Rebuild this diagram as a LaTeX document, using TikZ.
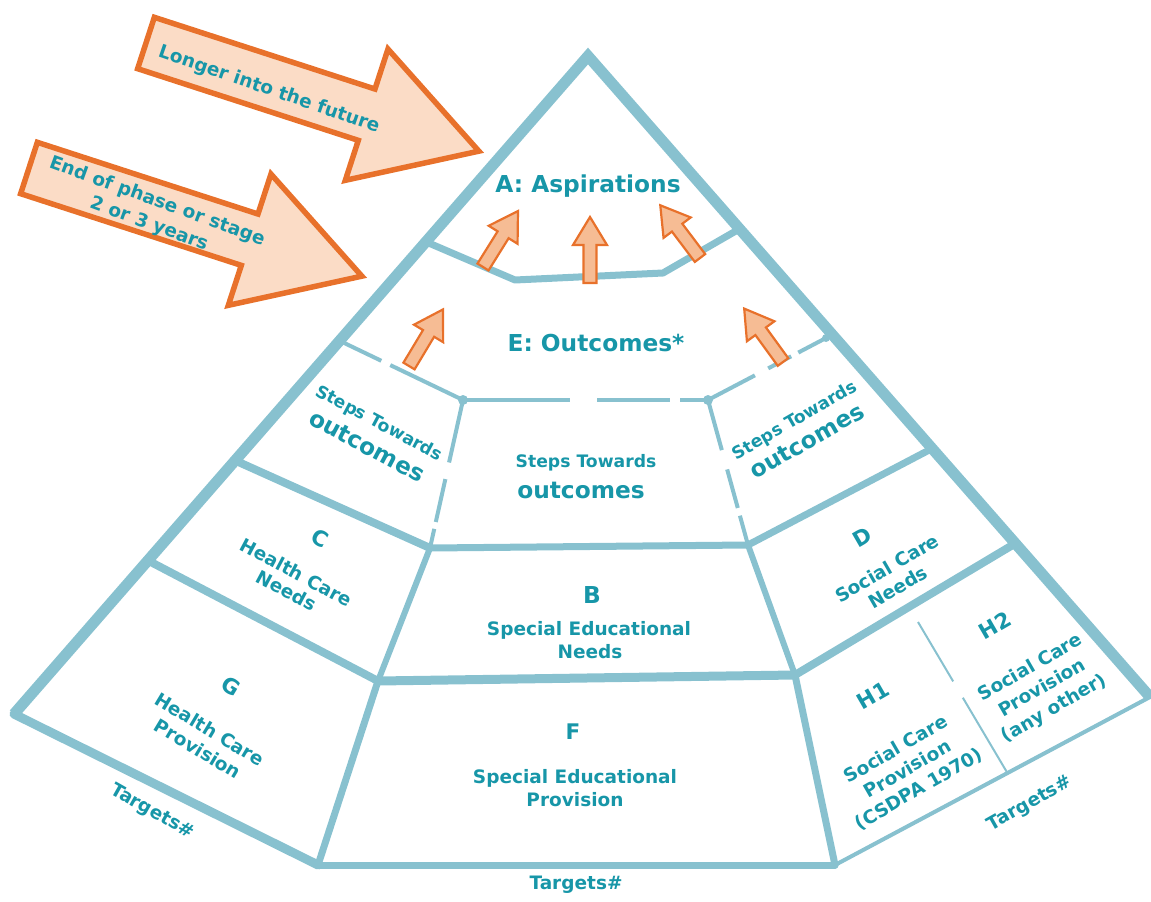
\documentclass[tikz,border=0pt]{standalone}
\usepackage{fontspec}
\setmainfont{DejaVu Sans}
\definecolor{frame}{HTML}{88C1CF}
\definecolor{ink}{HTML}{1796A8}
\definecolor{peach}{HTML}{FBDCC6}
\definecolor{peachdk}{HTML}{F6BC94}
\definecolor{orangeline}{HTML}{E8712B}
\newcommand\fsS{\bfseries\fontsize{18.5}{22}\selectfont}
\newcommand\fsT{\bfseries\fontsize{17.2}{20}\selectfont}
\newcommand\fsM{\bfseries\fontsize{21.5}{24}\selectfont}
\newcommand\fsL{\bfseries\fontsize{23.3}{26}\selectfont}
\newcommand\fsskip[1]{\bfseries\fontsize{18.5}{#1}\selectfont}
\begin{document}
\begin{tikzpicture}[x=1pt,y=-1pt,
  edge/.style={draw=frame, line cap=round, line join=round},
  stepline/.style={draw=frame, line width=4pt, line cap=butt},
  txt/.style={text=ink, inner sep=0pt, font=\fsS},
  block/.style={txt, align=center},
  bigarrow/.pic={\filldraw[fill=peach, draw=orangeline, line width=5.5pt, line join=miter]
      (0,-27) -- (232,-27) -- (232,-69) -- (350,0) -- (232,69) -- (232,27) -- (0,27) -- cycle;},
  smallarrow/.pic={\filldraw[fill=peachdk, draw=orangeline, line width=2.2pt, line join=miter]
      (0,-6.5) -- (38,-6.5) -- (38,-17) -- (66,0) -- (38,17) -- (38,6.5) -- (0,6.5) -- cycle;},
]
\useasboundingbox (0,0) rectangle (1151,902);

% corner points of the pyramid and its sections
\coordinate (apex) at (588,56);
\coordinate (lc) at (14,714);
\coordinate (rc) at (1150,697);
\coordinate (gb) at (318,865);
\coordinate (hb) at (835,865);
\coordinate (ae0) at (424,241);
\coordinate (ae1) at (515,280);
\coordinate (ae2) at (663,273);
\coordinate (ae3) at (741,228);
\coordinate (sl0) at (338,340);
\coordinate (sl) at (463,400);
\coordinate (sr) at (708,400);
\coordinate (sr0) at (826,338);
\coordinate (cl0) at (234,460);
\coordinate (bl) at (430,548);
\coordinate (br) at (748,545);
\coordinate (dr0) at (933,448);
\coordinate (cg0) at (147,560);
\coordinate (gf) at (378,681);
\coordinate (fh) at (795,675);
\coordinate (dh0) at (1016,543);
\coordinate (hd0) at (918,622);
\coordinate (hd1) at (1008,774);

% the two time-scale arrows
\pic[rotate=-18] at (146,43) {bigarrow};
\pic[rotate=-18] at (29,168) {bigarrow};
\node[txt, rotate=-19] (future) at (269,90) {Longer into the future};
\node[block, rotate=-20, font=\fsskip{24}] (phase) at (153,213) {End of phase or stage\\2 or 3 years};

% outer frame
\draw[draw=frame, line width=11pt, line join=miter] (lc) -- (apex) -- (rc);
\draw[edge, line width=9pt] (lc) -- (gb);
\draw[edge, line width=7pt] (gb) -- (hb);
\draw[edge, line width=4pt] (hb) -- (rc);

% section boundaries
\draw[edge, line width=7pt] (ae0) -- (ae1) -- (ae2) -- (ae3);
\draw[edge, line width=8pt] (cl0) -- (bl);
\draw[edge, line width=7pt] (bl) -- (br);
\draw[edge, line width=7pt] (br) -- (dr0);
\draw[edge, line width=8pt] (cg0) -- (gf);
\draw[edge, line width=6pt] (bl) -- (gf);
\draw[edge, line width=9pt] (gf) -- (fh);
\draw[edge, line width=6pt] (br) -- (fh);
\draw[edge, line width=8pt] (fh) -- (dh0);
\draw[edge, line width=7pt] (gf) -- (gb);
\draw[edge, line width=7pt] (fh) -- (hb);
\draw[draw=frame, line width=2pt, dash pattern=on 69pt off 19pt on 120pt] (hd0) -- (hd1);

% broken lines round the steps towards outcomes
\draw[stepline, dash pattern=on 48pt off 10pt on 200pt] (sl0) -- (sl);
\draw[stepline, dash pattern=on 107pt off 27pt on 73pt off 10pt on 100pt] (sl) -- (sr);
\draw[stepline, dash pattern=on 64pt off 17pt on 44pt off 7pt on 100pt] (sl) -- (bl);
\draw[stepline, dash pattern=on 52pt off 20pt on 40pt off 8pt on 100pt] (sr) -- (br);
\draw[stepline, dash pattern=on 53pt off 15pt on 26pt off 8pt on 100pt] (sr) -- (sr0);
\fill[frame] (sl) circle (5);
\fill[frame] (sr) circle (5);
\fill[frame] (sr0) circle (4);

% progress arrows
\pic[rotate=58] at (483,267) {smallarrow};
\pic[rotate=90] at (590,283) {smallarrow};
\pic[rotate=127] at (700,258) {smallarrow};
\pic[rotate=59] at (409,366) {smallarrow};
\pic[rotate=126] at (783,362) {smallarrow};

% labels
\node[txt, font=\fsL] (asp) at (588,186) {A: Aspirations};
\node[txt, font=\fsL] (outc) at (596,343) {E: Outcomes*};

\node[txt, font=\fsT] (smA) at (586,463) {Steps Towards};
\node[txt, font=\fsL] (smB) at (581,490) {outcomes};
\node[block, rotate=-28, font=\bfseries\fontsize{17.2}{28.5}\selectfont] (stepsL) at (373,435)
  {Steps Towards\\{\fsL outcomes}};
\node[block, rotate=30, font=\bfseries\fontsize{17.2}{26.5}\selectfont] (stepsR) at (801,431)
  {Steps Towards\\{\fsL outcomes}};

\node[txt, font=\fsM, rotate=-28] (cL) at (320,538) {C};
\node[block, rotate=-28, font=\fsskip{20.5}] (cD) at (291.5,581.5) {Health Care\\Needs};

\node[txt, font=\fsM, rotate=30] (dL) at (862,537) {D};
\node[block, rotate=30, font=\fsskip{22}] (dD) at (892.5,577.5) {Social Care\\Needs};

\node[txt, font=\fsL] (bL) at (592,595) {B};
\node[txt] (bA) at (589,630) {Special Educational};
\node[txt] (bB) at (590,652) {Needs};

\node[txt, font=\fsM] (fL) at (573,732) {F};
\node[txt] (fA) at (575,778) {Special Educational};
\node[txt] (fB) at (575,800) {Provision};

\node[txt, font=\fsM, rotate=-31] (gL) at (231,686) {G};
\node[block, rotate=-31, font=\fsskip{23}] (gD) at (204,739) {Health Care\\Provision};

\node[txt, font=\fsM, rotate=30] (h1L) at (873,695) {H1};
\node[block, rotate=30, font=\fsskip{23}] (h1D) at (907.5,769.5) {Social Care\\Provision\\(CSDPA 1970)};

\node[txt, font=\fsM, rotate=30] (h2L) at (995,625) {H2};
\node[block, rotate=30, font=\fsskip{23.5}] (h2D) at (1042.5,688.5) {Social Care\\Provision\\(any other)};

\node[txt, rotate=-29.5] (tL) at (152,812) {Targets\#};
\node[txt] (tB) at (576,885) {Targets\#};
\node[txt, rotate=29.5] (tR) at (1030,804) {Targets\#};
\end{tikzpicture}
\end{document}
